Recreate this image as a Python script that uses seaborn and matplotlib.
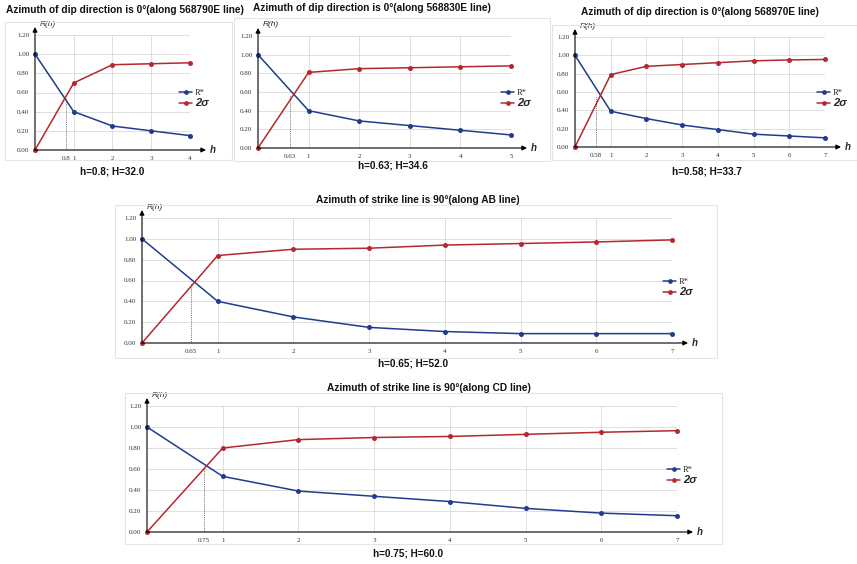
import numpy as np
import pandas as pd
import matplotlib
matplotlib.use("Agg")
import matplotlib.pyplot as plt
from matplotlib.patches import Rectangle
import seaborn as sns

# ---------------- data ----------------
titles = [
    "Azimuth of dip direction is 0°(along 568790E line)",
    "Azimuth of dip direction is 0°(along 568830E line)",
    "Azimuth of dip direction is 0°(along 568970E line)",
    "Azimuth of strike line is 90°(along AB line)",
    "Azimuth of strike line is 90°(along CD line)",
]
captions = [
    "h=0.8; H=32.0",
    "h=0.63; H=34.6",
    "h=0.58; H=33.7",
    "h=0.65; H=52.0",
    "h=0.75; H=60.0",
]
h1 = [0, 1, 2, 3, 4]
rstar1 = [1.00, 0.40, 0.25, 0.20, 0.15]
sigma1 = [0.00, 0.70, 0.89, 0.90, 0.91]
hc1, hc1_label = 0.8, "0.8"

h2 = [0, 1, 2, 3, 4, 5]
rstar2 = [1.00, 0.40, 0.29, 0.24, 0.19, 0.14]
sigma2 = [0.00, 0.81, 0.85, 0.86, 0.87, 0.88]
hc2, hc2_label = 0.63, "0.63"

h3 = [0, 1, 2, 3, 4, 5, 6, 7]
rstar3 = [1.00, 0.39, 0.31, 0.24, 0.19, 0.14, 0.12, 0.10]
sigma3 = [0.00, 0.79, 0.88, 0.90, 0.92, 0.94, 0.95, 0.955]
hc3, hc3_label = 0.58, "0.58"

h4 = [0, 1, 2, 3, 4, 5, 6, 7]
rstar4 = [1.00, 0.40, 0.25, 0.15, 0.11, 0.09, 0.09, 0.09]
sigma4 = [0.00, 0.84, 0.90, 0.91, 0.94, 0.955, 0.97, 0.99]
hc4, hc4_label = 0.65, "0.65"

h5 = [0, 1, 2, 3, 4, 5, 6, 7]
rstar5 = [1.00, 0.53, 0.39, 0.34, 0.29, 0.225, 0.18, 0.155]
sigma5 = [0.00, 0.80, 0.88, 0.90, 0.91, 0.93, 0.95, 0.965]
hc5, hc5_label = 0.75, "0.75"

y_ticks = [0.0, 0.2, 0.4, 0.6, 0.8, 1.0, 1.2]
y_tick_labels = ["0.00", "0.20", "0.40", "0.60", "0.80", "1.00", "1.20"]
series_names = ["R*", "2σ"]

# ---------------- style ----------------
sns.set_style("white")
plt.rcParams["font.family"] = ["Liberation Sans", "DejaVu Sans"]
BLUE = "#1f3d8c"
RED = "#b5282e"
GRID = "#d9d9d9"

W, H = 857, 564
fig = plt.figure(figsize=(W / 100, H / 100), dpi=100)


def fig_rect(l, t, r, b):
    return [l / W, 1 - b / H, (r - l) / W, (b - t) / H]


def panel(ax_px, frame_px, title, title_xy, caption, caption_xy,
          hs, rs, ss, hc, hc_label, leg_xy):
    fl, ft, fr, fb = frame_px
    fig.patches.append(Rectangle((fl / W, 1 - fb / H), (fr - fl) / W, (fb - ft) / H,
                                 transform=fig.transFigure, fill=False,
                                 ec="#e4e4e4", lw=0.8, zorder=0))
    l, t, r, b = ax_px
    wpx, hpx = r - l, b - t
    ax = fig.add_axes(fig_rect(l, t, r, b))
    ax.patch.set_alpha(0)
    n = len(hs)
    df = pd.DataFrame({"h": list(hs) * 2, "val": list(rs) + list(ss),
                       "series": [series_names[0]] * n + [series_names[1]] * n})
    sns.lineplot(data=df, x="h", y="val", hue="series",
                 palette={series_names[0]: BLUE, series_names[1]: RED},
                 marker="o", markersize=3.6, markeredgewidth=0, linewidth=1.1,
                 ax=ax, legend=True, clip_on=False, zorder=5)
    handles, labels = ax.get_legend_handles_labels()
    ax.get_legend().remove()
    xmax = max(hs)
    ax.set_xlim(0, xmax)
    ax.set_ylim(0, 1.2)
    for s in ax.spines.values():
        s.set_visible(False)
    ax.set_xlabel("")
    ax.set_ylabel("")
    ax.set_yticks(y_ticks)
    ax.set_yticklabels(y_tick_labels, family="Liberation Serif", fontsize=5, color="#333333")
    ax.set_xticks(list(range(1, int(xmax) + 1)))
    ax.set_xticklabels([str(i) for i in range(1, int(xmax) + 1)],
                       family="Liberation Serif", fontsize=5, color="#333333")
    ax.set_xticks([hc], minor=True)
    ax.set_xticklabels([hc_label], minor=True, family="Liberation Serif",
                       fontsize=5, color="#333333")
    ax.tick_params(axis="both", which="both", length=0, pad=4)
    ax.grid(True, which="major", color=GRID, lw=0.6)
    # dotted line at crossing
    yc = 0.5 * (np.interp(hc, hs, rs) + np.interp(hc, hs, ss))
    ax.plot([hc, hc], [0, yc], ls=(0, (1, 1.2)), color="#555555", lw=0.6, zorder=3)
    # axis arrows
    ax.annotate("", xy=(0, 1 + 8 / hpx), xytext=(0, 0), xycoords="axes fraction",
                arrowprops=dict(arrowstyle="-|>", color="black", lw=0.8,
                                mutation_scale=7, shrinkA=0, shrinkB=0), zorder=6)
    ax.annotate("", xy=(1 + 16 / wpx, 0), xytext=(0, 0), xycoords="axes fraction",
                arrowprops=dict(arrowstyle="-|>", color="black", lw=0.8,
                                mutation_scale=7, shrinkA=0, shrinkB=0), zorder=6)
    ax.text(5 / wpx, 1 + 11 / hpx, "R(h)", transform=ax.transAxes, fontsize=6,
            style="italic", ha="left", va="center")
    ax.text(1 + 20 / wpx, 0, "h", transform=ax.transAxes, fontsize=7,
            style="italic", fontweight="bold", ha="left", va="center")
    # legend
    lx, ly = leg_xy
    leg = ax.legend(handles, labels, loc="upper left",
                    bbox_to_anchor=(lx / W, 1 - ly / H), bbox_transform=fig.transFigure,
                    frameon=False, handlelength=1.6, handletextpad=0.3,
                    borderpad=0, borderaxespad=0, labelspacing=0.15, fontsize=6)
    txts = leg.get_texts()
    txts[0].set_family("Liberation Serif")
    txts[0].set_fontsize(6)
    txts[1].set_fontweight("bold")
    txts[1].set_style("italic")
    txts[1].set_fontsize(8)
    for hdl in leg.legend_handles:
        hdl.set_markersize(3.4)
    # title & caption
    fig.text(title_xy[0] / W, 1 - title_xy[1] / H, title, ha="center", va="center",
             fontsize=7.3, fontweight="bold", color="#111111")
    fig.text(caption_xy[0] / W, 1 - caption_xy[1] / H, caption, ha="center", va="center",
             fontsize=7.2, fontweight="bold", color="#111111")
    return ax


panel((35, 35, 190, 150), (5, 22, 232, 160), titles[0], (125, 10), captions[0], (112, 171),
      h1, rstar1, sigma1, hc1, hc1_label, (179, 89))
panel((258, 36, 511, 148), (234, 18, 550, 161), titles[1], (372, 8), captions[1], (393, 165),
      h2, rstar2, sigma2, hc2, hc2_label, (501, 89))
panel((575, 37, 825, 147), (552, 25, 857, 160), titles[2], (700, 12), captions[2], (707, 171),
      h3, rstar3, sigma3, hc3, hc3_label, (817, 89))
panel((142, 218, 672, 343), (115, 205, 717, 358), titles[3], (418, 200), captions[3], (413, 363),
      h4, rstar4, sigma4, hc4, hc4_label, (663, 278))
panel((147, 406, 677, 532), (125, 393, 722, 544), titles[4], (429, 388), captions[4], (408, 553),
      h5, rstar5, sigma5, hc5, hc5_label, (667, 466))

fig.savefig("out.png", dpi=100)
